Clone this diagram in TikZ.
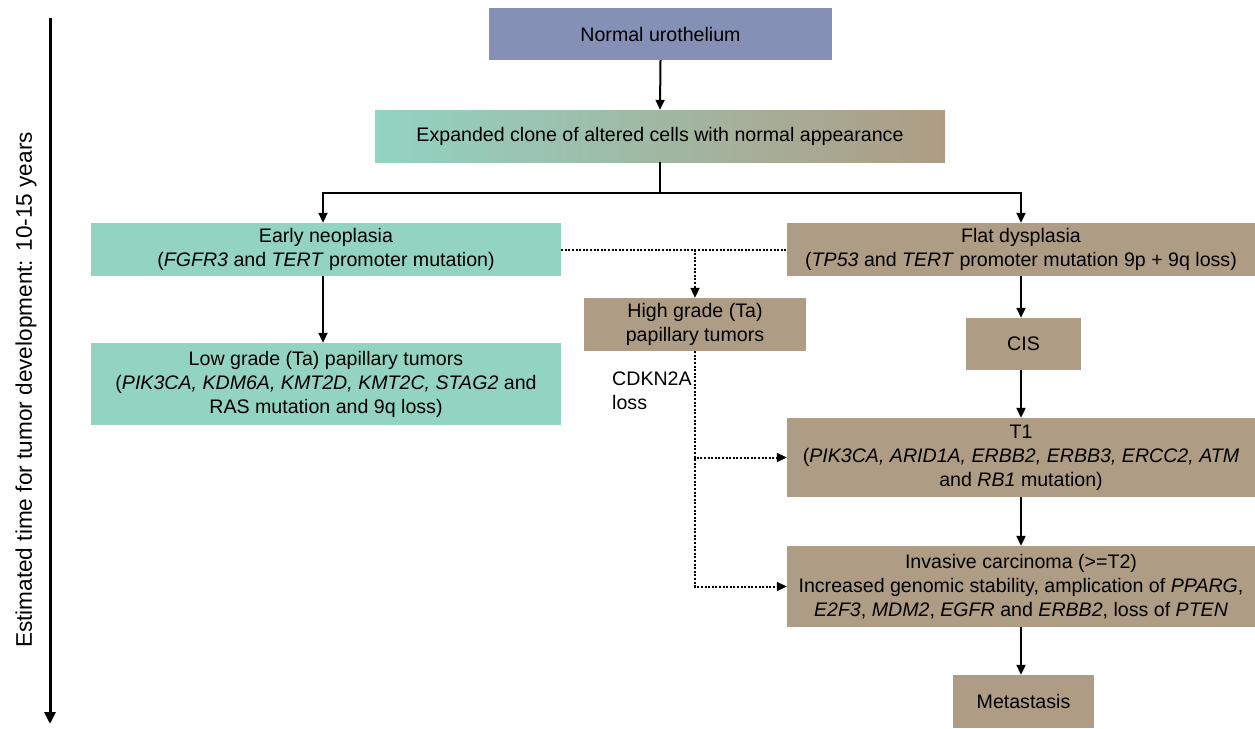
\documentclass[tikz,border=0pt]{standalone}
\usepackage{fontspec}
\setmainfont{Liberation Sans}
\usetikzlibrary{arrows.meta}
\definecolor{blu}{HTML}{8490B5}
\definecolor{teal}{HTML}{92D3C2}
\definecolor{tan}{HTML}{AF9C84}
\tikzset{
  box/.style={draw=none, align=center, inner sep=0pt, font=\fontsize{19.6}{24}\selectfont, text=black},
  arr/.style={line width=2pt, -{Triangle[length=10pt,width=9pt]}},
  dotarr/.style={line width=2pt, dash pattern=on 2pt off 1.6pt, -{Triangle[length=10pt,width=9pt]}},
  dotline/.style={line width=2pt, dash pattern=on 2pt off 1.6pt},
}
\begin{document}
\begin{tikzpicture}[x=1pt,y=-1pt]
\useasboundingbox (0,0) rectangle (1255,728);
\node[box, fill=blu, minimum width=343pt, minimum height=52pt] (norm) at (660.5,34) {Normal urothelium};
\node[box, left color=teal, right color=tan, minimum width=570pt, minimum height=52pt] (exp) at (660,136) {Expanded clone of altered cells with normal appearance};
\node[box, fill=teal, minimum width=470pt, minimum height=53pt] (early) at (326,249.5) {Early neoplasia\\(\textit{FGFR3} and \textit{TERT} promoter mutation)};
\node[box, fill=tan, minimum width=468pt, minimum height=53pt] (flat) at (1021,249.5) {Flat dysplasia\\(\textit{TP53} and \textit{TERT} promoter mutation 9p + 9q loss)};
\node[box, fill=tan, minimum width=222pt, minimum height=53pt] (high) at (695,324.5) {High grade (Ta)\\papillary tumors};
\node[box, fill=tan, minimum width=115pt, minimum height=52pt] (cis) at (1023.5,344) {CIS};
\node[box, fill=teal, minimum width=470pt, minimum height=82pt] (low) at (326,384) {Low grade (Ta) papillary tumors\\(\textit{PIK3CA, KDM6A, KMT2D, KMT2C, STAG2} and\\RAS mutation and 9q loss)};
\node[box, fill=tan, minimum width=468pt, minimum height=79pt] (t1) at (1021,457.5) {T1\\(\textit{PIK3CA, ARID1A, ERBB2, ERBB3, ERCC2, ATM}\\and \textit{RB1} mutation)};
\node[box, fill=tan, minimum width=468pt, minimum height=81pt] (inv) at (1021,586.5) {Invasive carcinoma (>=T2)\\Increased genomic stability, amplication of \textit{PPARG},\\\textit{E2F3}, \textit{MDM2}, \textit{EGFR} and \textit{ERBB2}, loss of \textit{PTEN}};
\node[box, fill=tan, minimum width=141pt, minimum height=53pt] (meta) at (1023.5,701.5) {Metastasis};
\node[box, anchor=north west, align=left] (cdkn) at (612,372) {CDKN2A\\loss};
% axis
\coordinate (ax1) at (50,18);
\coordinate (ax2) at (50,724);
\draw[line width=3pt, -{Triangle[length=12pt,width=11pt]}] (ax1) -- (ax2);
\node[box, rotate=90, font=\fontsize{22.6}{26}\selectfont] (axl) at (26,390) {Estimated time for tumor development: 10-15 years};
% connectors
\draw[arr] (norm.south) -- (exp.north);
\coordinate (split) at (660,193);
\draw[line width=2pt] (exp.south) -- (split);
\draw[arr] (split) -| (flat.north);
\draw[arr] (split) -| (early.north -| 323,0);
\draw[arr] (early.south -| 323,0) -- (low.north -| 323,0);
\draw[arr] (flat.south) -- (flat.south |- cis.north);
\draw[arr] (cis.south -| flat.south) -- (t1.north);
\draw[arr] (t1.south) -- (inv.north);
\draw[arr] (inv.south) -- (inv.south |- meta.north);
\draw[dotline] (early.east) -- (flat.west);
\draw[dotarr] (early.east -| high.north) -- (high.north);
\draw[dotarr] (high.south) |- (t1.west);
\draw[dotarr] (high.south) |- (inv.west);
\end{tikzpicture}
\end{document}
